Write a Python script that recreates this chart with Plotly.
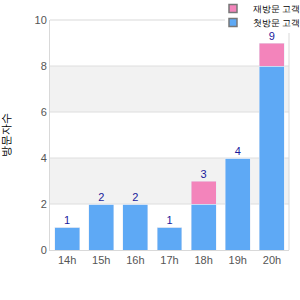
import plotly.graph_objects as go

hours = ["14h", "15h", "16h", "17h", "18h", "19h", "20h"]
blue_vals = [1, 2, 2, 1, 2, 4, 8]
pink_vals = [0, 0, 0, 0, 1, 0, 1]
totals = [b + p for b, p in zip(blue_vals, pink_vals)]
blue_name = "첫방문 고객"
pink_name = "재방문 고객"
y_title = "방문자수"
y_ticks = [0, 2, 4, 6, 8, 10]

BLUE = "#5ea9f5"
PINK = "#f384bb"
BORDER = "#d9d9d9"

fig = go.Figure()
fig.add_trace(go.Bar(x=hours, y=blue_vals, marker_color=BLUE, name=blue_name, showlegend=False))
fig.add_trace(go.Bar(x=hours, y=pink_vals, marker_color=PINK, name=pink_name, showlegend=False))
# totals
fig.add_trace(go.Scatter(x=hours, y=totals, mode="text", text=[str(t) for t in totals],
                         textposition="top center", textfont=dict(color="#1a1a9c", size=11),
                         showlegend=False, cliponaxis=False))
# legend entries
fig.add_trace(go.Scatter(x=[None], y=[None], mode="markers", name=pink_name, legend="legend",
                         marker=dict(symbol="square", size=8, color=PINK, line=dict(color="#777", width=1.5))))
fig.add_trace(go.Scatter(x=[None], y=[None], mode="markers", name=blue_name, legend="legend2",
                         marker=dict(symbol="square", size=8, color=BLUE, line=dict(color="#777", width=1.5))))

# alternating bands
for lo in y_ticks[1:-1:2]:
    fig.add_shape(type="rect", xref="paper", yref="y", x0=0, x1=1, y0=lo, y1=lo + 2,
                  fillcolor="#f2f2f2", line_width=0, layer="below")
# interior grid lines
for v in y_ticks[1:-1]:
    fig.add_shape(type="line", xref="paper", yref="y", x0=0, x1=1, y0=v, y1=v,
                  line=dict(color="#dedede", width=1), layer="below")

# frame top and right edges, interrupted by the legend area
fig.add_shape(type="line", xref="paper", yref="paper", x0=0, x1=0.732, y0=1, y1=1,
              line=dict(color=BORDER, width=1), layer="above")
fig.add_shape(type="line", xref="paper", yref="paper", x0=1, x1=1, y0=0, y1=0.9435,
              line=dict(color=BORDER, width=1), layer="above")

leg_common = dict(xanchor="left", yanchor="top", bgcolor="rgba(0,0,0,0)",
                  font=dict(color="black", size=9), itemwidth=30, borderwidth=0)

fig.update_layout(
    width=300, height=300,
    margin=dict(l=50, r=11, t=20, b=50, autoexpand=False),
    paper_bgcolor="white", plot_bgcolor="white",
    barmode="stack", bargap=0.27,
    font=dict(family="Liberation Sans, Arial, sans-serif", size=11, color="#555"),
    legend=dict(x=0.682, y=1.113, **leg_common),
    legend2=dict(x=0.682, y=1.052, **leg_common),
    xaxis=dict(showline=True, linecolor=BORDER, showgrid=False,
               ticks="", tickfont=dict(size=11, color="#555")),
    yaxis=dict(range=[0, 10], tickvals=y_ticks, showline=True, linecolor=BORDER,
               showgrid=False, zeroline=False, ticks="", ticklen=0,
               tickfont=dict(size=11, color="#555"),
               title=dict(text=y_title, font=dict(size=11, color="black"), standoff=26)),
)

fig.write_html("out.html")
